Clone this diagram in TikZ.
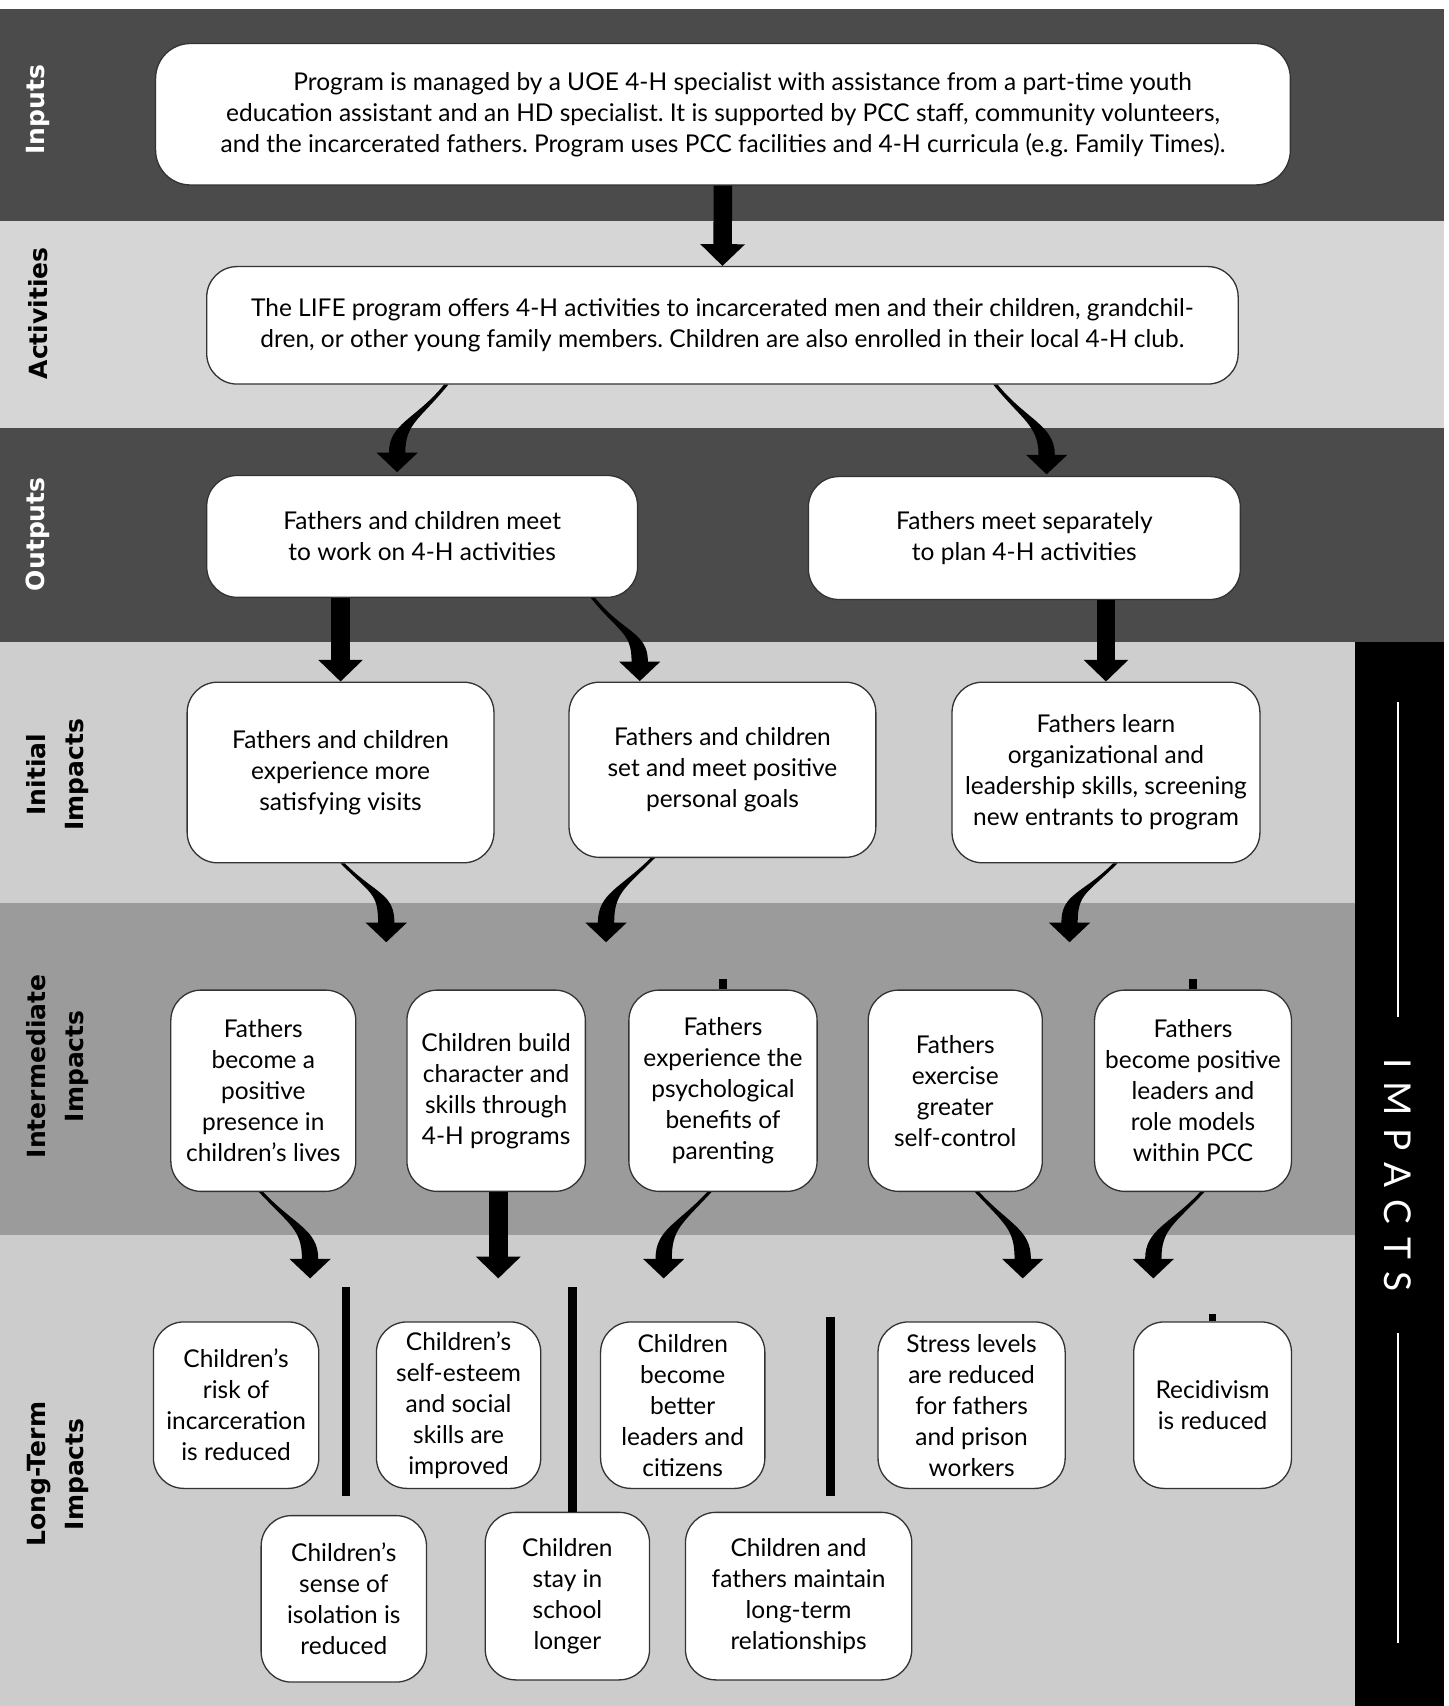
\documentclass[tikz,border=0pt]{standalone}
\usepackage{fontspec}
\setmainfont{Lato}
\newfontfamily\impactfont[LetterSpace=35]{Lato}
\newfontfamily\sidefont{DejaVu Sans}
\usetikzlibrary{arrows.meta,calc}
\definecolor{darkband}{HTML}{4B4B4B}
\definecolor{lightband}{HTML}{D6D6D6}
\definecolor{initband}{HTML}{CECECE}
\definecolor{midband}{HTML}{9B9B9B}
\definecolor{longband}{HTML}{CCCCCC}
\definecolor{boxline}{HTML}{333333}
% tapered curved arrow: start, tip, first control offset
\newcommand{\swoosh}[3]{%
	\fill ($(#1)+(-2,0)$) .. controls ($(#1)+(#3)+(-2,0)$) and ($(#2)+(-7.5,-45)$) .. ($(#2)+(-7.5,-18)$)
		-- ($(#2)+(-19,-18)$) -- (#2) -- ($(#2)+(19,-18)$) -- ($(#2)+(7.5,-18)$)
		.. controls ($(#2)+(7.5,-45)$) and ($(#1)+(#3)+(2,0)$) .. ($(#1)+(2,0)$) -- cycle;}
\begin{document}
\frenchspacing
\begin{tikzpicture}[x=1pt,y=-1pt,
	box/.style={draw=boxline,line width=1.2pt,fill=white,rounded corners=28pt,align=center,inner sep=0pt,
		font=\fontsize{22.5}{28.5}\selectfont},
	arr/.style={line width=17pt,-{Triangle[width=40pt,length=20pt]}},
	sidelabel/.style={rotate=90,align=center,font=\sidefont\bfseries\fontsize{23}{35}\selectfont},
	sepbar/.style={line width=8pt}]
	\useasboundingbox (0,0) rectangle (1331,1568);
	\fill[white] (0,0) rectangle (1331,1568);
	%bands
	\fill[darkband] (0,8) rectangle (1327,203);
	\fill[lightband] (0,203) rectangle (1327,393);
	\fill[darkband] (0,393) rectangle (1327,590);
	\fill[initband] (0,590) rectangle (1245,830);
	\fill[midband] (0,830) rectangle (1245,1135);
	\fill[longband] (0,1135) rectangle (1245,1568);
	\fill[black] (1245,590) rectangle (1327,1568);
	%side labels
	\node[sidelabel,text=white] (lin) at (35,101) {Inputs};
	\node[sidelabel] (lact) at (35,288) {Activities};
	\node[sidelabel,text=white] (lout) at (35,491) {Outputs};
	\node[sidelabel] (linit) at (53,712) {Initial\\Impacts};
	\node[sidelabel] (lmid) at (53,980) {Intermediate\\Impacts};
	\node[sidelabel] (llong) at (53,1355) {Long-Term\\Impacts};
	%impacts bar
	\node[rotate=-90,text=white,font=\impactfont\fontsize{34}{34}\selectfont] (imp) at (1285,1080) {IMPACTS};
	\draw[white,line width=2pt] (1285,645) -- (1285,935);
	\draw[white,line width=2pt] (1285,1225) -- (1285,1510);
	%inputs and activities
	\node[box,rounded corners=32pt,minimum width=1043pt,minimum height=130pt] (inputs) at (664.5,105)
		{\hspace*{36pt}Program is managed by a UOE 4-H specialist with assistance from a part-time youth\\
		education assistant and an HD specialist. It is supported by PCC staff, community volunteers,\\
		and the incarcerated fathers. Program uses PCC facilities and 4-H curricula (e.g. Family Times).};
	\node[box,minimum width=948pt,minimum height=108pt] (act) at (664,299)
		{The LIFE program offers 4-H activities to incarcerated men and their children, grandchil-\\
		dren, or other young family members. Children are also enrolled in their local 4-H club.};
	%outputs
	\node[box,minimum width=396pt,minimum height=112pt] (out1) at (388,493)
		{Fathers and children meet\\to work on 4-H activities};
	\node[box,minimum width=397pt,minimum height=113pt] (out2) at (941.5,494.5)
		{Fathers meet separately\\to plan 4-H activities};
	%initial impacts
	\node[box,minimum width=282pt,minimum height=166pt] (init1) at (313,710)
		{Fathers and children\\experience more\\satisfying visits};
	\node[box,minimum width=282pt,minimum height=161pt] (init2) at (664,707.5)
		{Fathers and children\\set and meet positive\\personal goals};
	\node[box,minimum width=283pt,minimum height=166pt] (init3) at (1016.5,710)
		{Fathers learn\\organizational and\\leadership skills, screening\\new entrants to program};
	%intermediate impacts
	\node[box,minimum width=170pt,minimum height=185pt] (int1) at (242,1002.5)
		{Fathers\\become a\\positive\\presence in\\children’s lives};
	\node[box,minimum width=164pt,minimum height=185pt] (int2) at (456,1002.5)
		{Children build\\character and\\skills through\\4-H programs};
	\node[box,minimum width=173pt,minimum height=185pt] (int3) at (664.5,1002.5)
		{Fathers\\experience the\\psychological\\benefits of\\parenting};
	\node[box,minimum width=160pt,minimum height=185pt] (int4) at (878,1002.5)
		{Fathers\\exercise\\greater\\self-control};
	\node[box,minimum width=181pt,minimum height=185pt] (int5) at (1096.5,1002.5)
		{Fathers\\become positive\\leaders and\\role models\\within PCC};
	%long-term impacts
	\node[box,minimum width=152pt,minimum height=153pt] (lt1) at (217,1291.5)
		{Children’s\\risk of\\incarceration\\is reduced};
	\node[box,minimum width=151pt,minimum height=153pt] (lt2) at (421.5,1291.5)
		{Children’s\\self-esteem\\and social\\skills are\\improved};
	\node[box,minimum width=151pt,minimum height=153pt] (lt3) at (627.5,1291.5)
		{Children\\become\\better\\leaders and\\citizens};
	\node[box,minimum width=172pt,minimum height=153pt] (lt4) at (893,1291.5)
		{Stress levels\\are reduced\\for fathers\\and prison\\workers};
	\node[box,minimum width=145pt,minimum height=153pt] (lt5) at (1114.5,1291.5)
		{Recidivism\\is reduced};
	\node[box,minimum width=152pt,minimum height=153pt] (lt6) at (316,1469.5)
		{Children’s\\sense of\\isolation is\\reduced};
	\node[box,minimum width=151pt,minimum height=154pt] (lt7) at (521.5,1467)
		{Children\\stay in\\school\\longer};
	\node[box,minimum width=208pt,minimum height=154pt] (lt8) at (734,1467)
		{Children and\\fathers maintain\\long-term\\relationships};
	%arrow starts
	\coordinate (s1) at ([xshift=-254pt]act.south);
	\coordinate (s2) at ([xshift=251pt]act.south);
	\coordinate (s3) at ([xshift=157pt]out1.south);
	\coordinate (s4) at ([xshift=2pt]init1.south);
	\coordinate (s5) at ([xshift=-64pt]init2.south);
	\coordinate (s6) at ([xshift=8.5pt]init3.south);
	\coordinate (s7) at ([xshift=-2pt]int1.south);
	\coordinate (s8) at ([xshift=-12.5pt]int3.south);
	\coordinate (s9) at ([xshift=20pt]int4.south);
	\coordinate (s10) at ([xshift=8.5pt]int5.south);
	%arrow ends
	\coordinate (o1) at (365,434);
	\coordinate (o2) at (962,436);
	\coordinate (p2) at (588,626);
	\coordinate (m1) at (355,866);
	\coordinate (m2) at (557,866);
	\coordinate (m3) at (983,866);
	\coordinate (l1) at (285,1175);
	\coordinate (l2) at (458,1175);
	\coordinate (l3) at (610,1175);
	\coordinate (l4) at (940,1175);
	\coordinate (l5) at (1060,1175);
	%straight arrows
	\draw[arr] (inputs.south) -- (act.north);
	\draw[arr] (init1.north |- out1.south) -- (init1.north);
	\draw[arr] (init3.north |- out2.south) -- (init3.north);
	\draw[arr] (l2 |- int2.south) -- (l2);
	%curved arrows
	\swoosh{s1}{o1}{-26,32}
	\swoosh{s2}{o2}{26,32}
	\swoosh{s3}{p2}{26,32}
	\swoosh{s4}{m1}{28,28}
	\swoosh{s5}{m2}{-28,28}
	\swoosh{s6}{m3}{-28,28}
	\swoosh{s7}{l1}{28,30}
	\swoosh{s8}{l3}{-28,30}
	\swoosh{s9}{l4}{28,30}
	\swoosh{s10}{l5}{-28,30}
	%separators
	\draw[sepbar] (318,1183) -- (318,1375);
	\draw[sepbar] (526,1183) -- (526,1390);
	\draw[sepbar] (763,1210) -- (763,1375);
	\draw[line width=7pt] (int3.north) -- ++(0,-10);
	\draw[line width=7pt] (int5.north) -- ++(0,-10);
	\draw[line width=7pt] (lt5.north) -- ++(0,-7);
\end{tikzpicture}
\end{document}
